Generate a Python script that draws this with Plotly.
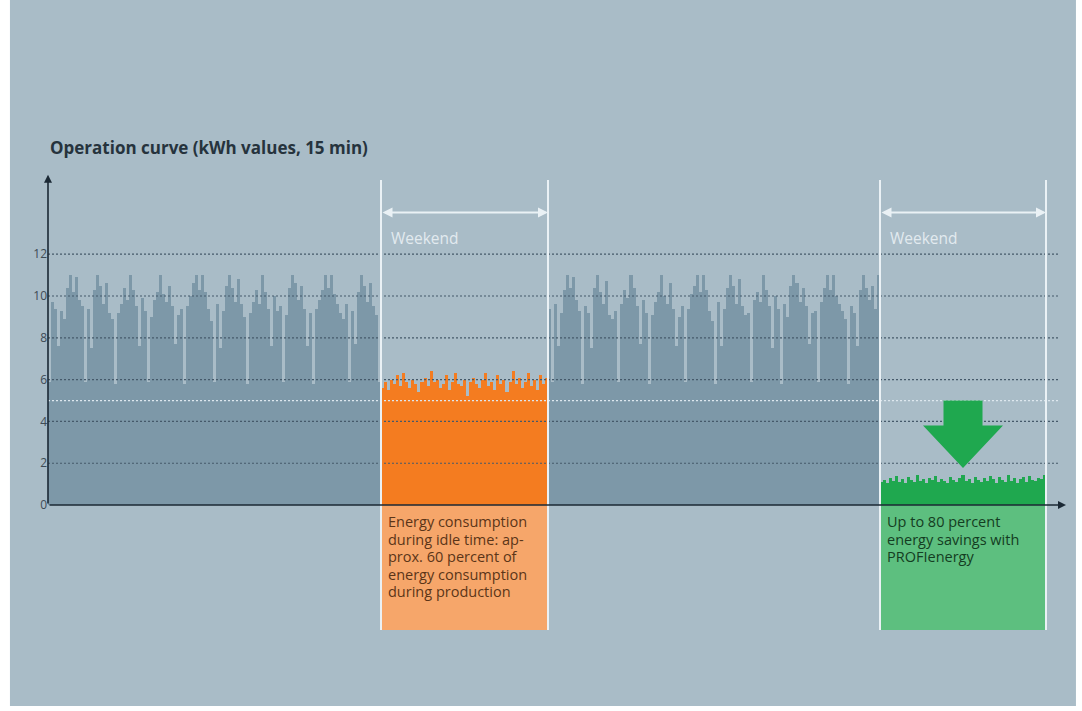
import plotly.graph_objects as go

# ---------------- data (kWh per 15-min slot) ----------------
production_week1 = [
    5.9, 9.7, 9.4, 7.6, 9.3, 8.9, 10.4, 11.0, 10.2, 10.9, 9.8,
    9.5, 5.9, 9.4, 7.5, 10.3, 11.0, 10.5, 9.6, 10.6, 9.2, 8.9,
    5.8, 9.2, 9.6, 10.4, 9.8, 11.0, 10.3, 9.5, 7.6, 9.9, 9.3,
    5.9, 9.0, 9.8, 10.2, 11.0, 10.1, 9.7, 10.5, 9.5, 7.7, 9.1,
    9.4, 5.8, 9.5, 10.0, 10.6, 11.0, 10.3, 11.0, 10.2, 9.4, 8.8,
    5.9, 9.6, 7.5, 9.3, 10.5, 11.0, 10.4, 9.7, 10.8, 9.6, 9.0,
    5.8, 9.2, 9.7, 10.3, 9.6, 11.0, 10.2, 9.4, 7.6, 10.0, 9.3,
    9.5, 5.9, 9.1, 10.4, 11.0, 10.6, 9.8, 10.5, 9.4, 7.6, 9.2,
    5.8, 9.4, 9.8, 10.3, 11.0, 10.4, 11.0, 10.1, 9.6, 9.2, 8.9,
    9.6, 5.9, 9.3, 7.7, 10.2, 11.0, 10.5, 9.7, 10.6, 9.5, 9.1,
    5.9,
]
production_week2 = [
    9.4, 5.9, 9.6, 7.6, 9.2, 10.3, 11.0, 10.4, 10.9, 9.8, 9.3,
    5.8, 9.5, 9.2, 7.5, 10.4, 11.0, 10.2, 9.6, 10.7, 9.1, 8.9,
    9.3, 5.9, 9.6, 10.3, 9.9, 11.0, 10.4, 9.5, 7.7, 9.8, 9.2,
    5.8, 9.1, 9.7, 10.2, 11.0, 10.0, 9.6, 10.6, 9.4, 7.6, 9.0,
    9.5, 5.9, 9.4, 10.1, 10.5, 11.0, 10.2, 11.0, 10.3, 9.3, 8.8,
    5.8, 9.7, 7.6, 9.4, 10.4, 11.0, 10.5, 9.6, 10.8, 9.5, 9.1,
    9.2, 5.9, 9.8, 10.2, 9.7, 11.0, 10.3, 9.5, 7.5, 10.0, 9.4,
    5.8, 9.6, 9.0, 10.5, 11.0, 10.6, 9.7, 10.4, 9.5, 7.7, 9.2,
    9.3, 5.9, 9.7, 10.4, 11.0, 10.3, 11.0, 10.0, 9.6, 9.3, 8.9,
    5.8, 9.5, 9.2, 7.6, 10.3, 11.0, 10.4, 9.8, 10.5, 9.4, 11.0,
]
idle_weekend = [
    5.6, 5.9, 5.5, 6.0, 5.8, 6.2, 5.7, 6.3, 5.9, 5.6, 6.0,
    5.8, 5.4, 5.9, 6.1, 5.7, 6.4, 5.9, 6.0, 5.6, 5.8, 6.2,
    5.5, 5.9, 6.3, 5.8, 5.7, 6.0, 5.2, 5.9, 6.1, 5.8, 5.6,
    6.0, 6.3, 5.7, 5.9, 5.5, 6.2, 5.8, 6.0, 5.4, 5.9, 6.4,
    5.8, 6.1, 5.6, 5.9, 6.3, 5.7, 6.0, 5.5, 6.2, 5.8, 6.1,
]
profienergy_weekend = [
    1.10, 1.20, 1.05, 1.30, 1.15, 1.40, 1.10, 1.25, 1.05, 1.35, 1.20,
    1.10, 1.45, 1.15, 1.25, 1.05, 1.30, 1.20, 1.40, 1.10, 1.25, 1.15,
    1.05, 1.35, 1.20, 1.10, 1.30, 1.45, 1.15, 1.25, 1.05, 1.35, 1.20,
    1.10, 1.30, 1.15, 1.40, 1.25, 1.05, 1.35, 1.20, 1.10, 1.45, 1.15,
    1.30, 1.05, 1.25, 1.35, 1.10, 1.40, 1.20, 1.15, 1.30, 1.25, 1.45,
]
y_tick_values = [0, 2, 4, 6, 8, 10, 12]
y_tick_labels = ["0", "2", "4", "6", "8", "10", "12"]
idle_level = 5

# time segments on the x axis (arbitrary time units)
segments = [
    ("prod1", 0, 333),
    ("weekend1", 333, 500),
    ("prod2", 500, 832),
    ("weekend2", 832, 998),
]

title_text = "Operation curve (kWh values, 15 min)"
weekend_label = "Weekend"
idle_lines = ["Energy consumption", "during idle time: ap-", "prox. 60 percent of",
              "energy consumption", "during production"]
saving_lines = ["Up to 80 percent", "energy savings with", "PROFIenergy"]

# ---------------- styles ----------------
PANEL = "#a9bcc7"
PROD = "#7d98a8"
ORANGE = "#f47c20"
ORANGE_LIGHT = "#f6a66a"
GREEN = "#1fa84f"
GREEN_LIGHT = "#5dbf7f"
WHITE_LINE = "#eaf1f5"
GRID = "#45596a"
AXIS = "#1b2935"
FONT = "Open Sans"

seg = {name: (a, b) for name, a, b in segments}


def bars(values, start, end, color, name):
    w = (end - start) / len(values)
    xs = [start + w * (i + 0.5) for i in range(len(values))]
    return go.Bar(x=xs, y=values, width=[w] * len(values), name=name,
                  marker=dict(color=color, line=dict(width=0)),
                  hoverinfo="skip", showlegend=False)


fig = go.Figure()
fig.add_trace(bars(production_week1, *seg["prod1"], PROD, "production 1"))
fig.add_trace(bars(idle_weekend, *seg["weekend1"], ORANGE, "idle weekend"))
fig.add_trace(bars(production_week2, *seg["prod2"], PROD, "production 2"))
fig.add_trace(bars(profienergy_weekend, *seg["weekend2"], GREEN, "PROFIenergy weekend"))

Y_TOP = 15.98
Y_BOT = -7.46
BOX_BOTTOM = -5.98
LINE_TOP = 15.55
ARROW_Y = 14.0
X_MAX = 1020
LINE_STEP = 0.837   # text line spacing in y units
TEXT_Y0 = -0.81

shapes = []
# panel background
shapes.append(dict(type="rect", xref="paper", yref="paper", x0=-0.0373, x1=1.0078,
                   y0=-0.0918, y1=1.3551, fillcolor=PANEL, line=dict(width=0), layer="below"))
# text boxes below the axis
for name, col in (("weekend1", ORANGE_LIGHT), ("weekend2", GREEN_LIGHT)):
    a, b = seg[name]
    shapes.append(dict(type="rect", xref="x", yref="y", x0=a, x1=b, y0=BOX_BOTTOM, y1=0,
                       fillcolor=col, line=dict(width=0), layer="below"))
# dotted grid lines over the bars
for v in y_tick_values[1:]:
    shapes.append(dict(type="line", xref="x", yref="y", x0=0, x1=1012, y0=v, y1=v,
                       line=dict(color=GRID, width=1.2, dash="2px,2px"), layer="above"))
shapes.append(dict(type="line", xref="x", yref="y", x0=0, x1=1012, y0=idle_level, y1=idle_level,
                   line=dict(color="#dde7ee", width=1.2, dash="2px,2px"), layer="above"))
# weekend boundary lines
for name in ("weekend1", "weekend2"):
    a, b = seg[name]
    for xv in (a, b):
        shapes.append(dict(type="line", xref="x", yref="y", x0=xv, x1=xv, y0=BOX_BOTTOM, y1=LINE_TOP,
                           line=dict(color=WHITE_LINE, width=2), layer="above"))
# green down arrow
a, b = seg["weekend2"]
cx = (a + b) / 2
shaft, head = 19.5, 40
top, neck, tip = 5.0, 3.8, 1.77
path = (f"M {cx-shaft},{top} L {cx+shaft},{top} L {cx+shaft},{neck} L {cx+head},{neck} "
        f"L {cx},{tip} L {cx-head},{neck} L {cx-shaft},{neck} Z")
shapes.append(dict(type="path", xref="x", yref="y", path=path, fillcolor=GREEN,
                   line=dict(width=0), layer="above"))

annotations = []
# title
annotations.append(dict(text=f"<b>{title_text}</b>", xref="paper", yref="paper", x=0.0, y=1.047,
                        xanchor="left", yanchor="middle", showarrow=False,
                        font=dict(family=FONT, size=17, color="#26333d")))
# axes arrows
annotations.append(dict(x=0, y=15.8, ax=0, ay=0, xref="x", yref="y", axref="x", ayref="y",
                        text="", showarrow=True, arrowhead=2, arrowsize=1, arrowwidth=1.6,
                        arrowcolor=AXIS, standoff=0))
annotations.append(dict(x=1018, y=0, ax=0, ay=0, xref="x", yref="y", axref="x", ayref="y",
                        text="", showarrow=True, arrowhead=2, arrowsize=1, arrowwidth=1.6,
                        arrowcolor=AXIS, standoff=0))
# weekend span arrows and labels
for name in ("weekend1", "weekend2"):
    a, b = seg[name]
    annotations.append(dict(x=b, y=ARROW_Y, ax=a, ay=ARROW_Y, xref="x", yref="y", axref="x", ayref="y",
                            text="", showarrow=True, arrowhead=2, arrowside="end+start",
                            arrowsize=1, arrowwidth=2, arrowcolor=WHITE_LINE, standoff=0,
                            startstandoff=0))
    annotations.append(dict(x=a + 8, y=12.76, xref="x", yref="y", text=weekend_label,
                            showarrow=False, xanchor="left", yanchor="middle",
                            font=dict(family=FONT, size=15.5, color="#e2eaef")))
# box texts, one annotation per line
for name, lines, col in (("weekend1", idle_lines, "#5b3518"), ("weekend2", saving_lines, "#143d22")):
    a, b = seg[name]
    for i, line in enumerate(lines):
        annotations.append(dict(x=a + 5, y=TEXT_Y0 - i * LINE_STEP, xref="x", yref="y", text=line,
                                showarrow=False, xanchor="left", yanchor="middle",
                                font=dict(family=FONT, size=14.5, color=col)))

fig.update_layout(
    width=1082, height=711,
    margin=dict(l=48, r=14, t=171, b=50),
    paper_bgcolor="white",
    plot_bgcolor="rgba(0,0,0,0)",
    barmode="overlay",
    bargap=0,
    showlegend=False,
    shapes=shapes,
    annotations=annotations,
    xaxis=dict(range=[0, X_MAX], showgrid=False, zeroline=False, showline=False,
               showticklabels=False, ticks="", fixedrange=True),
    yaxis=dict(range=[Y_BOT, Y_TOP], showgrid=False, zeroline=False, showline=False,
               tickvals=y_tick_values, ticktext=y_tick_labels, ticks="",
               tickfont=dict(family=FONT, size=12, color="#3e4b55"), fixedrange=True),
)

fig.write_html("out.html")
